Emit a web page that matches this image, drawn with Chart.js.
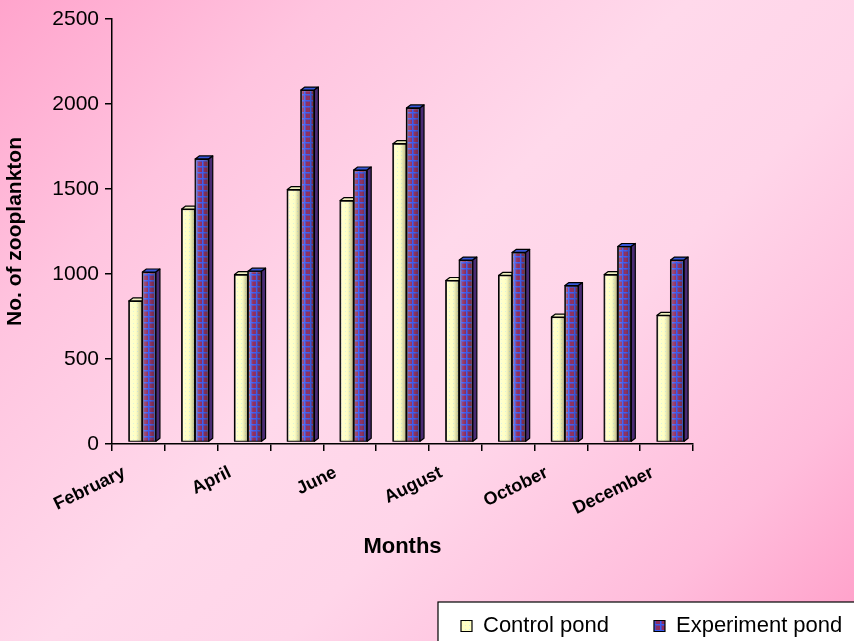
<!DOCTYPE html>
<html lang="en">
<head>
<meta charset="UTF-8">
<title>Zooplankton per month</title>
<script src="https://cdn.jsdelivr.net/npm/chart.js"></script>
<style>
  html, body { margin: 0; padding: 0; }
  body {
    width: 854px;
    height: 641px;
    overflow: hidden;
    /* pink diagonal wash behind the chart */
    background: linear-gradient(135deg, #ffa4cc 0%, #ffc4df 22%, #ffd9eb 46%, #ffd5e9 62%, #ffbcdb 84%, #ff9ec8 100%);
  }
  canvas { display: block; }
</style>
</head>
<body>
<canvas id="zooChart" width="854" height="641"></canvas>
<script>
// monthly counts
const months = ['February', 'March', 'April', 'May', 'June', 'July', 'August', 'September', 'October', 'November', 'December'];
const controlPond = [830, 1370, 985, 1485, 1420, 1755, 950, 980, 735, 985, 745];
const experimentPond = [1000, 1665, 1005, 2070, 1600, 1965, 1070, 1115, 920, 1150, 1070];
const yTicks = [0, 500, 1000, 1500, 2000, 2500];

Chart.defaults.font.family = '"Liberation Sans", Arial, sans-serif';
Chart.defaults.color = '#000';

function makePattern(size, draw) {
    const c = document.createElement('canvas');
    c.width = size;
    c.height = size;
    const g = c.getContext('2d');
    draw(g, size);
    return g.createPattern(c, 'repeat');
}

// light yellow with faint dots
const controlFill = makePattern(4, (g, s) => {
    g.fillStyle = '#ffffc4';
    g.fillRect(0, 0, s, s);
    g.fillStyle = '#d9f1df';
    g.fillRect(1, 1, 1, 1);
});

// maroon with a blue grid
const experimentFill = makePattern(6, (g, s) => {
    g.fillStyle = '#8c2d60';
    g.fillRect(0, 0, s, s);
    g.fillStyle = '#5a45b4';
    g.fillRect(1, 0, 1, s);
    g.fillRect(0, 1, s, 1);
    g.fillStyle = '#3a5cf2';
    g.fillRect(0, 0, 1, s);
    g.fillRect(0, 0, s, 1);
});

// columns are pushed back a little, as in a 3d projection
const DX = 4, DY = 3;
const SHIFT_X = 4, SHIFT_Y = -2;

const columnDepth = {
    id: 'columnDepth',
    beforeDatasetsDraw(chart) {
        chart.ctx.save();
        chart.ctx.translate(SHIFT_X, SHIFT_Y);
    },
    afterDatasetsDraw(chart) {
        const ctx = chart.ctx;
        const last = chart.data.datasets.length - 1;
        ctx.lineJoin = 'round';
        chart.data.datasets.forEach((ds, di) => {
            const meta = chart.getDatasetMeta(di);
            meta.data.forEach(bar => {
                const { x, y, base, width } = bar.getProps(['x', 'y', 'base', 'width'], true);
                const l = x - width / 2, r = x + width / 2;

                // rounded shading on the front face
                const g = ctx.createLinearGradient(l, 0, r, 0);
                g.addColorStop(0, 'rgba(255,255,255,0.25)');
                g.addColorStop(0.45, 'rgba(255,255,255,0)');
                g.addColorStop(0.7, 'rgba(50,50,20,0.12)');
                g.addColorStop(1, 'rgba(50,50,20,0.38)');
                ctx.fillStyle = g;
                ctx.fillRect(l, y, width, base - y);

                ctx.lineWidth = 1.2;
                ctx.strokeStyle = '#000';
                ctx.strokeRect(l, y, width, base - y);

                // top face
                ctx.beginPath();
                ctx.moveTo(l, y);
                ctx.lineTo(l + DX, y - DY);
                if (di === last) {
                    ctx.lineTo(r + DX, y - DY);
                } else {
                    ctx.lineTo(r, y - DY);
                }
                ctx.lineTo(r, y);
                ctx.closePath();
                ctx.fillStyle = di === last ? '#3657d8' : '#eeeebe';
                ctx.fill();
                ctx.stroke();

                // side face, only visible on the back column of each pair
                if (di === last) {
                    ctx.beginPath();
                    ctx.moveTo(r, y);
                    ctx.lineTo(r + DX, y - DY);
                    ctx.lineTo(r + DX, base - DY);
                    ctx.lineTo(r, base);
                    ctx.closePath();
                    ctx.fillStyle = '#4a2c74';
                    ctx.fill();
                    ctx.stroke();
                }
            });
        });
        ctx.restore();
    }
};

// legend sits in a white framed box at the bottom right
const legendFrame = {
    id: 'legendFrame',
    afterLayout(chart) {
        const lg = chart.legend;
        const shift = 416 - lg.left;
        lg.left += shift;
        lg.right += shift;
        lg.top += 6;
        lg.bottom += 6;
    },
    beforeDraw(chart) {
        const hb = chart.legend.legendHitBoxes;
        if (!hb || !hb.length) return;
        const ctx = chart.ctx;
        const cy = hb[0].top + hb[0].height / 2;
        ctx.save();
        ctx.fillStyle = '#fff';
        ctx.strokeStyle = '#000';
        ctx.lineWidth = 1.2;
        ctx.fillRect(hb[0].left - 23, cy - 24, 500, 80);
        ctx.strokeRect(hb[0].left - 23, cy - 24, 500, 80);
        ctx.restore();
    }
};

const ctx = document.getElementById('zooChart').getContext('2d');
const zooChart = new Chart(ctx, {
    type: 'bar',
    data: {
        labels: months,
        datasets: [{
            label: 'Control pond',
            data: controlPond,
            backgroundColor: controlFill,
            borderColor: '#000',
            borderWidth: 1.2,
            categoryPercentage: 0.512,
            barPercentage: 1.0
        }, {
            label: 'Experiment pond',
            data: experimentPond,
            backgroundColor: experimentFill,
            borderColor: '#000',
            borderWidth: 1.2,
            categoryPercentage: 0.512,
            barPercentage: 1.0
        }]
    },
    options: {
        responsive: false,
        animation: false,
        devicePixelRatio: 1,
        layout: { padding: { top: 19, left: 0, right: 0, bottom: 0 } },
        plugins: {
            legend: {
                position: 'bottom',
                align: 'start',
                labels: {
                    boxWidth: 11,
                    boxHeight: 11,
                    padding: 45,
                    color: '#000',
                    font: { size: 22 }
                }
            },
            tooltip: { enabled: false }
        },
        scales: {
            x: {
                grid: { offset: true, drawOnChartArea: false, color: '#000', lineWidth: 1.5, tickLength: 7 },
                border: { color: '#000', width: 1.5 },
                ticks: {
                    autoSkip: false,
                    minRotation: 26,
                    maxRotation: 26,
                    padding: 11,
                    labelOffset: -14,
                    color: '#000',
                    font: { size: 18, weight: 'bold' },
                    // every other month gets a label
                    callback: (v, i) => (i % 2 === 0 ? months[i] : '')
                },
                title: {
                    display: true,
                    text: 'Months',
                    color: '#000',
                    font: { size: 22, weight: 'bold' },
                    padding: { top: 4, bottom: 4 }
                },
                afterFit: s => { s.height = 120; }
            },
            y: {
                min: 0,
                max: 2500,
                afterBuildTicks: s => { s.ticks = yTicks.map(v => ({ value: v })); },
                grid: { drawOnChartArea: false, color: '#000', lineWidth: 1.5, tickLength: 7 },
                border: { color: '#000', width: 1.5 },
                ticks: {
                    padding: 6,
                    color: '#000',
                    font: { size: 21 },
                    callback: v => String(v)
                },
                title: {
                    display: true,
                    text: 'No. of zooplankton',
                    color: '#000',
                    font: { size: 21, weight: 'bold' },
                    padding: { top: 3, bottom: 0 }
                },
                afterFit: s => { s.width = 112; }
            },
            // empty axis that keeps the plot clear of the right side
            side: {
                type: 'linear',
                position: 'right',
                display: true,
                grid: { display: false },
                ticks: { display: false },
                border: { display: false },
                afterFit: s => { s.width = 161; }
            }
        }
    },
    plugins: [columnDepth, legendFrame]
});
</script>
</body>
</html>
